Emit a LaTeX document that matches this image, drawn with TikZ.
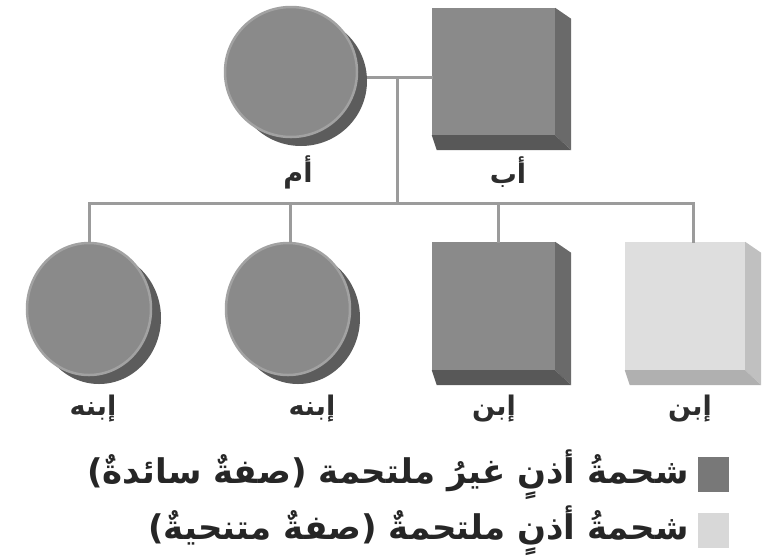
\documentclass[tikz,border=0pt]{standalone}
\usepackage{fontspec}
\usepackage{xcolor}
\usepackage{tikz}
\usetikzlibrary{positioning,shapes.geometric,shadows}
\TeXXeTstate=1
\newfontfamily\arabicfont[Script=Arabic]{DejaVu Sans}
\definecolor{facegray}{RGB}{138,138,138}
\definecolor{rimgray}{RGB}{162,162,162}
\definecolor{shadegray}{RGB}{92,92,92}
\definecolor{darkside}{RGB}{106,106,106}
\definecolor{darkbottom}{RGB}{88,88,88}
\definecolor{lightface}{RGB}{222,222,222}
\definecolor{lightside}{RGB}{192,192,192}
\definecolor{lightbottom}{RGB}{176,176,176}
\definecolor{linegray}{RGB}{155,155,155}
\definecolor{labelgray}{RGB}{45,45,45}
\definecolor{darkkey}{RGB}{120,120,120}
\definecolor{lightkey}{RGB}{216,216,216}

\tikzset{
  femalenode/.style={ellipse, draw=rimgray, line width=2.5pt, fill=facegray, inner sep=0pt,
    drop shadow={shadow xshift=10pt, shadow yshift=-9pt, fill=shadegray, opacity=1}},
  malenode/.style={rectangle, fill=facegray, inner sep=0pt},
  link/.style={draw=linegray, line width=3pt, line cap=rect},
  namelabel/.style={font=\arabicfont\bfseries\fontsize{27}{32}\selectfont, text=labelgray},
  keybox/.style={rectangle, inner sep=0pt, minimum width=31pt, minimum height=35pt},
  keytext/.style={font=\arabicfont\bfseries\fontsize{34}{40}\selectfont, text=black!85, inner sep=0pt},
}

\begin{document}
\begin{tikzpicture}[x=1pt,y=-1pt]
  \useasboundingbox (0,0) rectangle (764,558);

  % parents
  \node[femalenode, minimum width=132pt, minimum height=130pt] (mom) at (291,72) {};
  \node[malenode, minimum width=123pt, minimum height=127pt] (dad) at (493.5,71.5) {};

  % children
  \node[femalenode, minimum width=124pt, minimum height=132pt] (daughterA) at (89,309) {};
  \node[femalenode, minimum width=124pt, minimum height=132pt] (daughterB) at (288,309) {};
  \node[malenode, minimum width=123pt, minimum height=128pt] (sonA) at (493.5,306) {};
  \node[malenode, fill=lightface, minimum width=120pt, minimum height=128pt] (sonB) at (685,306) {};

  % bevel of the squares
  \foreach \n/\s/\b in {dad/darkside/darkbottom, sonA/darkside/darkbottom, sonB/lightside/lightbottom} {
    \fill[\s] (\n.north east) -- ([shift={(16,11)}]\n.north east) -- ([shift={(16,15)}]\n.south east) -- (\n.south east) -- cycle;
    \fill[\b] (\n.south west) -- (\n.south east) -- ([shift={(16,15)}]\n.south east) -- ([shift={(5,15)}]\n.south west) -- cycle;
  }

  % lines
  \coordinate (union) at (397,77);
  \coordinate (kidA) at (89,203);
  \coordinate (kidB) at (290,203);
  \coordinate (kidC) at (498,203);
  \coordinate (kidD) at (693,203);
  \draw[link] ([xshift=10pt]mom.east |- union) -- (dad.west |- union);
  \draw[link] (union) -- (union |- kidA);
  \draw[link] (kidA) -- (kidD);
  \foreach \k/\n in {kidA/daughterA, kidB/daughterB, kidC/sonA, kidD/sonB}
    \draw[link] (\k) -- (\k |- \n.north);

  % names
  \node[namelabel] (momname) at (298,172) {\beginR أم\endR};
  \node[namelabel] (dadname) at (508,172) {\beginR أب\endR};
  \node[namelabel] (daughterAname) at (93,409) {\beginR إبنه\endR};
  \node[namelabel] (daughterBname) at (312,409) {\beginR إبنه\endR};
  \node[namelabel] (sonAname) at (494,409) {\beginR إبن\endR};
  \node[namelabel] (sonBname) at (690,409) {\beginR إبن\endR};

  % key
  \node[keybox, fill=darkkey] (keydark) at (713.5,474.5) {};
  \node[keybox, fill=lightkey] (keylight) at (713.5,530.5) {};
  \node[keytext, left=9pt of keydark] (keydarktext) {\beginR شحمةُ أذنٍ غيرُ ملتحمة (صفةٌ سائدةٌ)\endR};
  \node[keytext, left=9pt of keylight] (keylighttext) {\beginR شحمةُ أذنٍ ملتحمةٌ (صفةٌ متنحيةٌ)\endR};
\end{tikzpicture}
\end{document}
